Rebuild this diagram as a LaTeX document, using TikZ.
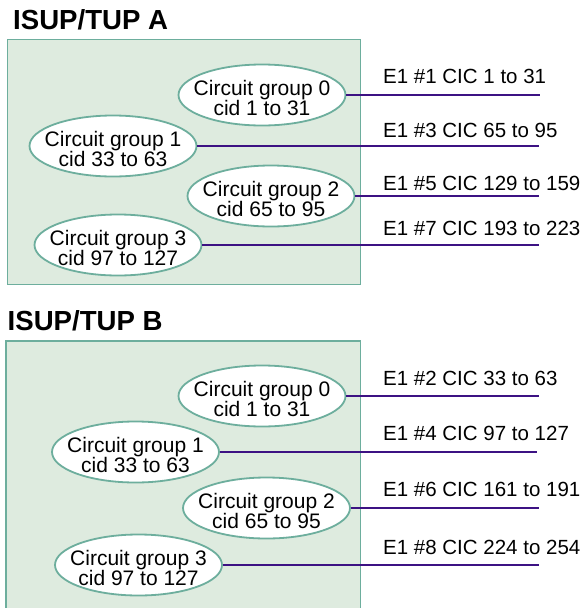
\documentclass[tikz,border=0pt]{standalone}
\usepackage{fontspec}
\setmainfont{Liberation Sans}
\usetikzlibrary{shapes.geometric}
\definecolor{panelfill}{HTML}{DEEBDF}
\definecolor{panelline}{HTML}{6DAE9D}
\definecolor{trunk}{HTML}{3C1283}
% two centred lines of fixed width, so the ellipse keeps its size;
% the strut on the first line sets the text a little below the middle
\newcommand\cgtext[2]{\makebox[110pt]{\rule{0pt}{21pt}#1}\\\makebox[110pt]{#2}}

\begin{document}
\begin{tikzpicture}[x=1pt,y=-1pt,
  panel/.style={fill=panelfill, draw=panelline, line width=1.8pt},
  cgroup/.style={ellipse, draw=panelline, fill=white, line width=1.8pt,
    minimum width=167pt, minimum height=61pt, inner sep=0pt, align=center,
    font=\fontsize{21}{20}\selectfont},
  trunkline/.style={draw=trunk, line width=2pt},
  linklabel/.style={anchor=base west, inner sep=0pt, font=\fontsize{20.5}{24}\selectfont},
  heading/.style={anchor=base west, inner sep=0pt, font=\bfseries\fontsize{27.6}{30}\selectfont}]
\useasboundingbox (0,0) rectangle (583,608);

% ---------------- ISUP/TUP A ----------------
\node[heading] (hA) at (13,29) {ISUP/TUP A};
\path[panel] (7.5,39.5) rectangle (360.5,284.5);

\node[cgroup] (a0) at (262,95)  {\cgtext{Circuit group 0}{cid 1 to 31}};
\node[cgroup] (a1) at (113,146) {\cgtext{Circuit group 1}{cid 33 to 63}};
\node[cgroup] (a2) at (271,196) {\cgtext{Circuit group 2}{cid 65 to 95}};
\node[cgroup] (a3) at (118,245) {\cgtext{Circuit group 3}{cid 97 to 127}};

\coordinate (ea0) at (540,95);
\coordinate (ea1) at (539,146);
\coordinate (ea2) at (539,196);
\coordinate (ea3) at (539,245);
\draw[trunkline] (a0) -- (ea0);
\draw[trunkline] (a1) -- (ea1);
\draw[trunkline] (a2) -- (ea2);
\draw[trunkline] (a3) -- (ea3);

\node[linklabel] (la0) at (383,83.5)  {E1 \#1 CIC 1 to 31};
\node[linklabel] (la1) at (383,137)   {E1 \#3 CIC 65 to 95};
\node[linklabel] (la2) at (383,190)   {E1 \#5 CIC 129 to 159};
\node[linklabel] (la3) at (383,235.5) {E1 \#7 CIC 193 to 223};

% ---------------- ISUP/TUP B ----------------
\node[heading] (hB) at (7.5,330.5) {ISUP/TUP B};
\fill[panelfill] (6,341) rectangle (360.5,608);
\draw[panelline, line width=1.8pt] (6,612) -- (6,341) -- (360.5,341) -- (360.5,612);

\node[cgroup] (b0) at (262,396)   {\cgtext{Circuit group 0}{cid 1 to 31}};
\node[cgroup] (b1) at (135.5,452) {\cgtext{Circuit group 1}{cid 33 to 63}};
\node[cgroup] (b2) at (266.5,508) {\cgtext{Circuit group 2}{cid 65 to 95}};
\node[cgroup] (b3) at (138.5,565) {\cgtext{Circuit group 3}{cid 97 to 127}};

\coordinate (eb0) at (539,396);
\coordinate (eb1) at (537,452);
\coordinate (eb2) at (539,508);
\coordinate (eb3) at (539,565);
\draw[trunkline] (b0) -- (eb0);
\draw[trunkline] (b1) -- (eb1);
\draw[trunkline] (b2) -- (eb2);
\draw[trunkline] (b3) -- (eb3);

\node[linklabel] (lb0) at (383,385)   {E1 \#2 CIC 33 to 63};
\node[linklabel] (lb1) at (383,440)   {E1 \#4 CIC 97 to 127};
\node[linklabel] (lb2) at (383,496)   {E1 \#6 CIC 161 to 191};
\node[linklabel] (lb3) at (383,554)   {E1 \#8 CIC 224 to 254};
\end{tikzpicture}
\end{document}
